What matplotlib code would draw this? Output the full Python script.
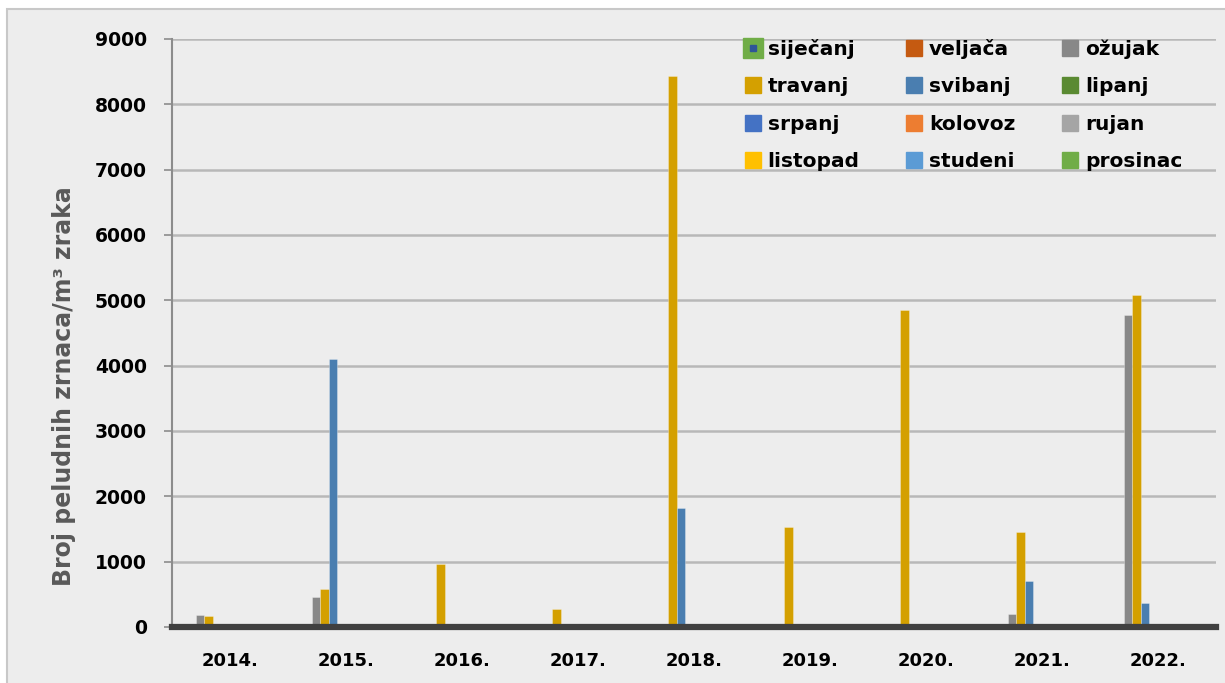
import numpy as np
import matplotlib.pyplot as plt
from matplotlib.lines import Line2D
from matplotlib.patches import Rectangle
from matplotlib.legend_handler import HandlerTuple

godine = ['2014.', '2015.', '2016.', '2017.', '2018.', '2019.', '2020.', '2021.', '2022.']
mjeseci = ['siječanj', 'veljača', 'ožujak', 'travanj', 'svibanj', 'lipanj',
           'srpanj', 'kolovoz', 'rujan', 'listopad', 'studeni', 'prosinac']
boje = ['#4472c4', '#c55a11', '#888888', '#d4a000', '#4a7eb0', '#5a8a32',
        '#4472c4', '#ed7d31', '#a5a5a5', '#ffc000', '#5b9bd5', '#70ad47']

# vrijednosti po mjesecima (samo ozujak, travanj, svibanj imaju podatke)
sijecanj = [0, 0, 0, 0, 0, 0, 0, 0, 0]
veljaca = [0, 0, 0, 0, 0, 0, 0, 0, 0]
ozujak = [185, 460, 0, 0, 0, 0, 0, 200, 4775]
travanj = [170, 578, 965, 282, 8440, 1532, 4855, 1460, 5082]
svibanj = [45, 4100, 0, 20, 1822, 0, 0, 705, 362]
lipanj = [0, 0, 0, 0, 0, 0, 0, 0, 0]
srpanj = [0, 0, 0, 0, 0, 0, 0, 0, 0]
kolovoz = [0, 0, 0, 0, 0, 0, 0, 0, 0]
rujan = [0, 0, 0, 0, 0, 0, 0, 0, 0]
listopad = [0, 0, 0, 0, 0, 0, 0, 0, 0]
studeni = [0, 0, 0, 0, 0, 0, 0, 0, 0]
prosinac = [0, 0, 0, 0, 0, 0, 0, 0, 0]
serije = [sijecanj, veljaca, ozujak, travanj, svibanj, lipanj,
          srpanj, kolovoz, rujan, listopad, studeni, prosinac]

bg = '#ededed'
fig = plt.figure(figsize=(12.25, 6.83), dpi=100, facecolor='white')
fig.patches.append(Rectangle((7/1225, -0.1), 1.2, 1.1 - 9/683,
                             transform=fig.transFigure, facecolor=bg,
                             edgecolor='#c8c8c8', lw=1.5, zorder=-10))
ax = fig.add_axes([172/1225, 1 - 627/683, (1216 - 172)/1225, (627 - 39)/683])
ax.set_facecolor(bg)

x = np.arange(len(godine))
n = len(serije)
sirina = 0.88 / n
for i, (vals, c) in enumerate(zip(serije, boje)):
    pos = x - 0.44 + sirina*(i + 0.5)
    ax.bar(pos, vals, width=sirina, color=c, edgecolor='#ffffff55', lw=0.6,
           label=mjeseci[i], zorder=3)

ax.set_ylim(0, 9000)
ax.set_xlim(-0.5, len(godine) - 0.5)
ax.set_yticks(range(0, 9001, 1000))
ax.set_xticks(x)
ax.set_xticklabels(godine)
ax.yaxis.grid(True, color='#b8b8b8', lw=1.8, zorder=0)
ax.axhline(0, color='#404040', lw=4.5, zorder=4, clip_on=False)
for s in ['top', 'right', 'bottom']:
    ax.spines[s].set_visible(False)
ax.spines['left'].set_color('#8c8c8c')
ax.spines['left'].set_linewidth(1.5)
ax.tick_params(axis='y', length=6, width=1.2, color='#8c8c8c', pad=12,
               labelsize=13.5)
ax.tick_params(axis='x', length=0, pad=18, labelsize=13)
for t in ax.get_xticklabels() + ax.get_yticklabels():
    t.set_fontweight('bold')
ax.set_ylabel('Broj peludnih zrnaca/m³ zraka', fontsize=17, fontweight='bold',
              color='#595959')
ax.yaxis.set_label_coords(-0.092, 0.41)

# legenda
rucke = []
for i, c in enumerate(boje):
    if i == 0:
        rucke.append((Line2D([], [], marker='s', ls='', color='#70ad47', markersize=15),
                      Line2D([], [], marker='s', ls='', color='#2f5597', markersize=5)))
    else:
        rucke.append(Line2D([], [], marker='s', ls='', color=c, markersize=11.5))
# legenda se puni po stupcima, pa se poredak preslaze
red = [0, 3, 6, 9, 1, 4, 7, 10, 2, 5, 8, 11]
leg = ax.legend([rucke[k] for k in red], [mjeseci[k] for k in red], ncol=3,
                loc='upper left', bbox_to_anchor=(0.530, 1.031), frameon=False,
                prop={'weight': 'bold', 'size': 14.5}, handlelength=0.9,
                handletextpad=0.3, columnspacing=2.25, labelspacing=0.92,
                handler_map={tuple: HandlerTuple(ndivide=1)})

fig.savefig('out.png', dpi=100, facecolor=fig.get_facecolor())
